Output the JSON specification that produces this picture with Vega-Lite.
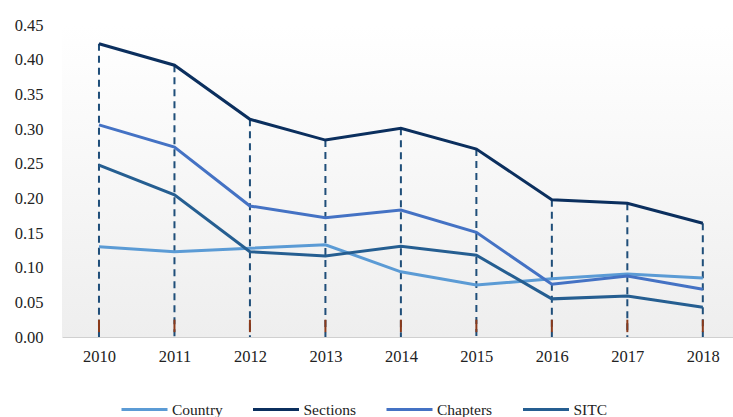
{
  "$schema": "https://vega.github.io/schema/vega-lite/v6.json",
  "width": 671,
  "height": 312,
  "autosize": "none",
  "padding": {"left": 62, "top": 25, "right": 0, "bottom": 80},
  "background": "#ffffff",
  "config": {
    "view": {"stroke": null, "fill": {"gradient": "linear", "x1": 0, "y1": 0, "x2": 0, "y2": 1, "stops": [{"offset": 0, "color": "#ffffff"}, {"offset": 1, "color": "#eeeeee"}]}},
    "font": "Liberation Serif",
    "axis": {
      "title": null,
      "grid": false,
      "ticks": false,
      "labelFont": "Liberation Serif",
      "labelFontSize": 16.5,
      "labelColor": "#222222",
      "labelOverlap": false,
      "labelFlush": false
    },
    "axisX": {"domain": true, "domainColor": "#d0d0d0", "domainWidth": 1, "labelPadding": 11},
    "axisY": {"domain": false, "labelPadding": 19}
  },
  "data": {
    "values": [
      {"year": 2010, "series": "Country", "value": 0.130},
      {"year": 2011, "series": "Country", "value": 0.123},
      {"year": 2012, "series": "Country", "value": 0.128},
      {"year": 2013, "series": "Country", "value": 0.133},
      {"year": 2014, "series": "Country", "value": 0.094},
      {"year": 2015, "series": "Country", "value": 0.075},
      {"year": 2016, "series": "Country", "value": 0.084},
      {"year": 2017, "series": "Country", "value": 0.091},
      {"year": 2018, "series": "Country", "value": 0.085},
      {"year": 2010, "series": "Sections", "value": 0.423},
      {"year": 2011, "series": "Sections", "value": 0.392},
      {"year": 2012, "series": "Sections", "value": 0.314},
      {"year": 2013, "series": "Sections", "value": 0.284},
      {"year": 2014, "series": "Sections", "value": 0.301},
      {"year": 2015, "series": "Sections", "value": 0.271},
      {"year": 2016, "series": "Sections", "value": 0.198},
      {"year": 2017, "series": "Sections", "value": 0.193},
      {"year": 2018, "series": "Sections", "value": 0.164},
      {"year": 2010, "series": "Chapters", "value": 0.306},
      {"year": 2011, "series": "Chapters", "value": 0.274},
      {"year": 2012, "series": "Chapters", "value": 0.189},
      {"year": 2013, "series": "Chapters", "value": 0.172},
      {"year": 2014, "series": "Chapters", "value": 0.183},
      {"year": 2015, "series": "Chapters", "value": 0.151},
      {"year": 2016, "series": "Chapters", "value": 0.076},
      {"year": 2017, "series": "Chapters", "value": 0.088},
      {"year": 2018, "series": "Chapters", "value": 0.069},
      {"year": 2010, "series": "SITC", "value": 0.248},
      {"year": 2011, "series": "SITC", "value": 0.205},
      {"year": 2012, "series": "SITC", "value": 0.123},
      {"year": 2013, "series": "SITC", "value": 0.117},
      {"year": 2014, "series": "SITC", "value": 0.131},
      {"year": 2015, "series": "SITC", "value": 0.118},
      {"year": 2016, "series": "SITC", "value": 0.055},
      {"year": 2017, "series": "SITC", "value": 0.059},
      {"year": 2018, "series": "SITC", "value": 0.043}
    ]
  },
  "encoding": {
    "x": {
      "field": "year",
      "type": "quantitative",
      "scale": {"domain": [2009.51, 2018.4], "nice": false, "zero": false},
      "axis": {
        "values": [2010, 2011, 2012, 2013, 2014, 2015, 2016, 2017, 2018],
        "format": "d"
      }
    },
    "y": {
      "field": "value",
      "type": "quantitative",
      "scale": {"domain": [0, 0.45], "nice": false},
      "axis": {
        "values": [0, 0.05, 0.1, 0.15, 0.2, 0.25, 0.3, 0.35, 0.4, 0.45],
        "format": ".2f"
      }
    }
  },
  "layer": [
    {
      "transform": [{"filter": "datum.series === 'Sections'"}],
      "mark": {"type": "rule", "strokeDash": [7, 5], "strokeWidth": 2, "color": "#1F4E79"},
      "encoding": {
        "y2": {"datum": 0}
      }
    },
    {
      "transform": [{"filter": "datum.series === 'Sections'"}],
      "mark": {"type": "rule", "strokeWidth": 2, "color": "#8B3A1A"},
      "encoding": {
        "y": {"datum": 0.025, "type": "quantitative"},
        "y2": {"datum": 0.007}
      }
    },
    {
      "mark": {"type": "line", "strokeWidth": 3},
      "encoding": {
        "color": {
          "field": "series",
          "type": "nominal",
          "sort": ["Country", "Sections", "Chapters", "SITC"],
          "scale": {
            "domain": ["Country", "Sections", "Chapters", "SITC"],
            "range": ["#5B9BD5", "#0B2F5E", "#4472C4", "#255E91"]
          },
          "legend": {
            "title": null,
            "orient": "none",
            "direction": "horizontal",
            "legendX": 58,
            "legendY": 360,
            "padding": 0,
            "symbolType": "stroke",
            "symbolSize": 2116,
            "symbolStrokeWidth": 3,
            "labelFont": "Liberation Serif",
            "labelFontSize": 15.5,
            "labelColor": "#222222",
            "labelOffset": 3,
            "columnPadding": 23.5
          }
        }
      }
    }
  ]
}
